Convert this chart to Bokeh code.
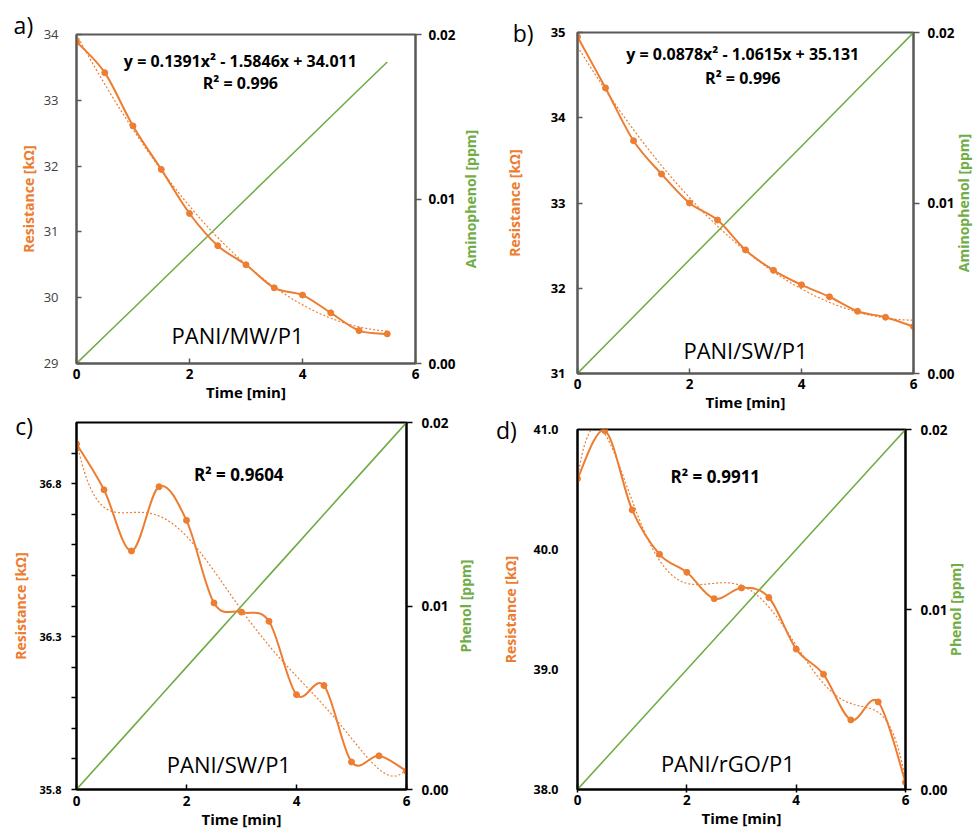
import math
import numpy as np
from bokeh.plotting import figure
from bokeh.models import Range1d, LinearAxis, FixedTicker, PrintfTickFormatter, Label
from bokeh.core.properties import value
from bokeh.layouts import row, column
from bokeh.embed import file_html
from bokeh.resources import INLINE

ORANGE = "#ED7D31"
GREEN = "#70AD47"
FONT = "Open Sans"

# ---------------- data ----------------
time_a = [0, 0.5, 1, 1.5, 2, 2.5, 3, 3.5, 4, 4.5, 5, 5.5]
res_a = [33.89, 33.42, 32.61, 31.95, 31.28, 30.79, 30.50, 30.15, 30.04, 29.77, 29.50, 29.45]
conc_a = [0, 0.00167, 0.00333, 0.005, 0.00667, 0.00833, 0.01, 0.01167, 0.01333, 0.015, 0.01667, 0.01833]

time_b = [0, 0.5, 1, 1.5, 2, 2.5, 3, 3.5, 4, 4.5, 5, 5.5, 6]
res_b = [34.95, 34.35, 33.73, 33.34, 33.00, 32.80, 32.45, 32.21, 32.04, 31.90, 31.73, 31.66, 31.55]
conc_b = [0, 0.00167, 0.00333, 0.005, 0.00667, 0.00833, 0.01, 0.01167, 0.01333, 0.015, 0.01667, 0.01833, 0.02]

time_c = [0, 0.5, 1, 1.5, 2, 2.5, 3, 3.5, 4, 4.5, 5, 5.5, 6]
res_c = [36.93, 36.78, 36.58, 36.79, 36.68, 36.41, 36.38, 36.35, 36.11, 36.14, 35.89, 35.91, 35.86]
conc_c = [0, 0.00167, 0.00333, 0.005, 0.00667, 0.00833, 0.01, 0.01167, 0.01333, 0.015, 0.01667, 0.01833, 0.02]

time_d = [0, 0.5, 1, 1.5, 2, 2.5, 3, 3.5, 4, 4.5, 5, 5.5, 6]
res_d = [40.59, 40.99, 40.33, 39.96, 39.81, 39.59, 39.68, 39.60, 39.17, 38.96, 38.58, 38.73, 38.06]
conc_d = [0, 0.00167, 0.00333, 0.005, 0.00667, 0.00833, 0.01, 0.01167, 0.01333, 0.015, 0.01667, 0.01833, 0.02]

x_ticks = [0, 2, 4, 6]
conc_ticks = [0, 0.01, 0.02]
ticks_a = [29, 30, 31, 32, 33, 34]
ticks_b = [31, 32, 33, 34, 35]
ticks_c = [35.8, 36.3, 36.8]
minor_c = [35.9, 36.0, 36.1, 36.2, 36.4, 36.5, 36.6, 36.7, 36.9]
ticks_d = [38.0, 39.0, 40.0, 41.0]

eq_a = "y = 0.1391x² - 1.5846x + 34.011"
eq_b = "y = 0.0878x² - 1.0615x + 35.131"
r2_a = "R² = 0.996"
r2_b = "R² = 0.996"
r2_c = "R² = 0.9604"
r2_d = "R² = 0.9911"


def bezier_segments(x, y):
    x = np.asarray(x, float)
    y = np.asarray(y, float)
    xp = np.concatenate([[x[0]], x, [x[-1]]])
    yp = np.concatenate([[y[0]], y, [y[-1]]])
    n = len(x)
    seg = dict(x0=[], y0=[], x1=[], y1=[], cx0=[], cy0=[], cx1=[], cy1=[])
    for i in range(n - 1):
        seg["x0"].append(x[i]); seg["y0"].append(y[i])
        seg["x1"].append(x[i + 1]); seg["y1"].append(y[i + 1])
        seg["cx0"].append(x[i] + (xp[i + 2] - xp[i]) / 6.0)
        seg["cy0"].append(y[i] + (yp[i + 2] - yp[i]) / 6.0)
        seg["cx1"].append(x[i + 1] - (xp[i + 3] - xp[i + 1]) / 6.0)
        seg["cy1"].append(y[i + 1] - (yp[i + 3] - yp[i + 1]) / 6.0)
    return seg


def make_panel(t, r, conc, cfg):
    p = figure(width=cfg["w"], height=cfg["h"], x_range=Range1d(0, 6),
               y_range=Range1d(cfg["yr"][0], cfg["yr"][1]),
               output_backend="svg", toolbar_location=None,
               min_border_left=cfg["bl"], min_border_right=cfg["br"],
               min_border_top=cfg["bt"], min_border_bottom=cfg["bb"])
    p.extra_y_ranges = {"conc": Range1d(0, 0.02)}
    p.xgrid.visible = False
    p.ygrid.visible = False
    p.background_fill_color = "white"
    p.border_fill_color = "white"
    p.outline_line_color = cfg["axc"]
    p.outline_line_width = 2
    p.outline_line_alpha = 1.0

    # x axis
    xa = p.xaxis[0]
    xa.ticker = FixedTicker(ticks=x_ticks)
    xa.axis_label = "Time [min]"
    xa.axis_label_text_font = FONT
    xa.axis_label_text_font_style = "bold"
    xa.axis_label_text_font_size = "15px"
    xa.axis_label_text_color = "black"
    xa.axis_label_standoff = 0
    xa.major_label_text_font = FONT
    xa.major_label_text_font_style = "bold"
    xa.major_label_text_font_size = "13.5px"
    xa.major_label_text_color = "black"
    xa.major_label_standoff = cfg["xstd"]
    xa.axis_line_color = cfg["axc"]
    xa.axis_line_width = 2
    xa.major_tick_line_color = cfg["axc"]
    xa.major_tick_line_width = 1.5
    xa.major_tick_in = 5
    xa.major_tick_out = cfg["xto"]
    xa.minor_tick_line_color = None

    # left axis
    ya = p.yaxis[0]
    ya.ticker = FixedTicker(ticks=cfg["yt"], minor_ticks=cfg.get("ym", []))
    ya.formatter = PrintfTickFormatter(format=cfg["yf"])
    ya.axis_label = "Resistance [kΩ]"
    ya.axis_label_text_font = FONT
    ya.axis_label_text_font_style = "bold"
    ya.axis_label_text_font_size = "14px"
    ya.axis_label_text_color = ORANGE
    ya.axis_label_standoff = cfg["yls"]
    ya.major_label_text_font = FONT
    ya.major_label_text_font_style = cfg["ylw"]
    ya.major_label_text_font_size = cfg["ylsz"]
    ya.major_label_text_color = cfg["ylc"]
    ya.major_label_standoff = cfg["ystd"]
    ya.axis_line_color = cfg["axc"]
    ya.axis_line_width = 2
    ya.major_tick_line_color = cfg["axc"]
    ya.major_tick_line_width = 1.5
    ya.major_tick_in = cfg["yti"]
    ya.major_tick_out = cfg["yto"]
    if cfg.get("ym"):
        ya.minor_tick_line_color = cfg["axc"]
        ya.minor_tick_line_width = 1.5
        ya.minor_tick_in = 0
        ya.minor_tick_out = 5
    else:
        ya.minor_tick_line_color = None

    # right axis (concentration); its title is drawn as rotated text beside it
    ra = LinearAxis(y_range_name="conc", ticker=FixedTicker(ticks=conc_ticks),
                    formatter=PrintfTickFormatter(format="%.2f"))
    ra.major_label_text_font = FONT
    ra.major_label_text_font_style = "bold"
    ra.major_label_text_font_size = "13.5px"
    ra.major_label_text_color = "black"
    ra.major_label_standoff = cfg["rstd"]
    ra.axis_line_color = cfg["axc"]
    ra.axis_line_width = 2
    ra.major_tick_line_color = cfg["axc"]
    ra.major_tick_line_width = 1.5
    ra.major_tick_in = 0
    ra.major_tick_out = 6
    ra.minor_tick_line_color = None
    p.add_layout(ra, "right")

    # glyphs
    p.line(t, conc, y_range_name="conc", line_color=GREEN, line_width=1.6)
    coef = np.polyfit(t, r, cfg["deg"])
    tt = np.linspace(t[0], t[-1], 300)
    p.line(tt, np.polyval(coef, tt), line_color=ORANGE, line_width=1.2, line_dash="2 2")
    seg = bezier_segments(t, r)
    p.bezier(x0=seg["x0"], y0=seg["y0"], x1=seg["x1"], y1=seg["y1"],
             cx0=seg["cx0"], cy0=seg["cy0"], cx1=seg["cx1"], cy1=seg["cy1"],
             line_color=ORANGE, line_width=2)
    p.scatter(t, r, size=6, color=ORANGE)

    # texts
    for (txt, tx, ty, size, style) in cfg["texts"]:
        p.add_layout(Label(x=tx, y=ty, text=txt, text_align="center", text_baseline="middle",
                           text_font=FONT, text_font_size=size, text_font_style=style,
                           text_color="black"))
    lx, ly, ltxt = cfg["letter"]
    p.text(x=[lx], y=[ly], text=[ltxt], text_align="center", text_baseline="middle",
           text_font=value(FONT), text_font_size=value("23px"), text_color="black",
           level="overlay")
    p.text(x=[cfg["rtx"]], y=[0.01], y_range_name="conc", text=[cfg["rlab"]],
           angle=math.pi / 2, text_align="center", text_baseline="middle",
           text_font=value(FONT), text_font_size=value("14px"), text_font_style="bold",
           text_color=GREEN, level="overlay")
    return p


cfg_a = dict(w=487, h=405, bl=76, br=72, bt=34, bb=42, yr=(29, 34), yt=ticks_a, yf="%d",
             axc="#595959", xto=0, xstd=5, yti=5, yto=0, ylw="normal", ylsz="13px", ylc="#404040",
             ystd=18, yls=3, rstd=7, rtx=6.97, rlab="Aminophenol [ppm]", deg=2,
             texts=[(eq_a, 2.9, 33.6, "16px", "bold"), (r2_a, 2.9, 33.26, "16px", "bold"),
                    ("PANI/MW/P1", 2.85, 29.44, "22px", "normal")],
             letter=(-0.94, 34.14, "a)"))
cfg_b = dict(w=487, h=415, bl=90, br=61, bt=32, bb=42, yr=(31, 35), yt=ticks_b, yf="%d",
             axc="#595959", xto=0, xstd=5, yti=5, yto=0, ylw="bold", ylsz="13px", ylc="black",
             ystd=12, yls=24, rstd=8, rtx=6.9, rlab="Aminophenol [ppm]", deg=2,
             texts=[(eq_b, 2.95, 34.75, "16px", "bold"), (r2_b, 2.95, 34.47, "16px", "bold"),
                    ("PANI/SW/P1", 3.0, 31.27, "22px", "normal")],
             letter=(-0.97, 35.0, "b)"))
cfg_c = dict(w=478, h=427, bl=76, br=72, bt=17, bb=43, yr=(35.8, 37.0), yt=ticks_c, ym=minor_c,
             yf="%.1f", axc="#000000", xto=0, xstd=6, yti=0, yto=5, ylw="bold", ylsz="11px", ylc="black",
             ystd=10, yls=6, rstd=9, rtx=7.07, rlab="Phenol [ppm]", deg=6,
             texts=[(r2_c, 2.95, 36.83, "17px", "bold"),
                    ("PANI/SW/P1", 2.77, 35.885, "22px", "normal")],
             letter=(-0.95, 36.99, "c)"))
cfg_d = dict(w=479, h=417, bl=90, br=61, bt=14, bb=43, yr=(38.0, 41.0), yt=ticks_d,
             yf="%.1f", axc="#000000", xto=3, xstd=2, yti=0, yto=0, ylw="bold", ylsz="12.5px", ylc="black",
             ystd=19, yls=10, rstd=9, rtx=6.91, rlab="Phenol [ppm]", deg=6,
             texts=[(r2_d, 2.52, 40.61, "17px", "bold"),
                    ("PANI/rGO/P1", 2.75, 38.22, "22px", "normal")],
             letter=(-1.3, 40.995, "d)"))

pa = make_panel(time_a, res_a, conc_a, cfg_a)
pb = make_panel(time_b, res_b, conc_b, cfg_b)
pc = make_panel(time_c, res_c, conc_c, cfg_c)
pd = make_panel(time_d, res_d, conc_d, cfg_d)

layout = row(column(pa, pc), column(pb, pd))
open("out.html", "w").write(file_html(layout, INLINE))
